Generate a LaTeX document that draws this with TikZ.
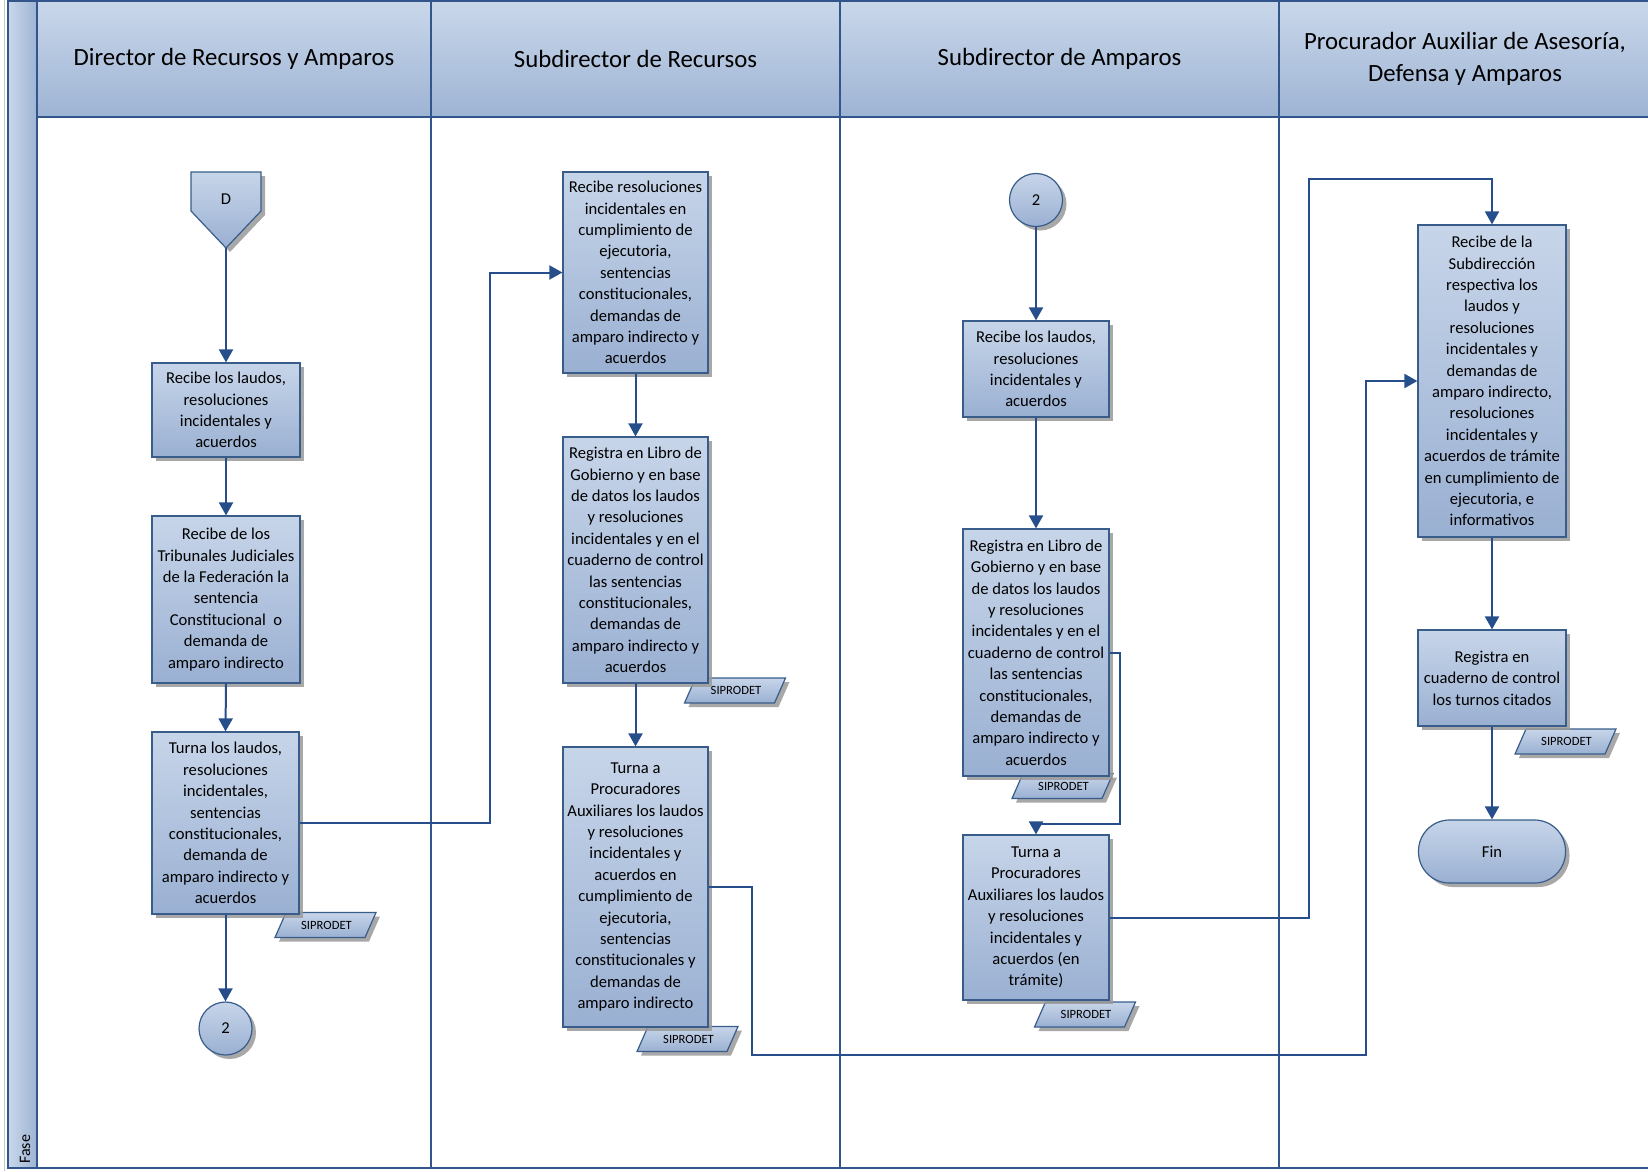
\documentclass[tikz,border=0pt]{standalone}
\usepackage{fontspec}
\setmainfont{Carlito}
\usetikzlibrary{arrows.meta,shadows}

\definecolor{laneline}{RGB}{50,86,140}
\definecolor{hdrtop}{RGB}{201,215,234}
\definecolor{hdrbot}{RGB}{158,180,212}
\definecolor{boxtop}{RGB}{199,213,233}
\definecolor{boxbot}{RGB}{154,176,210}
\definecolor{boxedge}{RGB}{56,93,138}
\definecolor{flowcol}{RGB}{38,78,138}

\newcommand\procfont{\fontsize{16.6}{21.4}\selectfont}
\newcommand\hdrfont{\fontsize{24.8}{32}\selectfont}
\newcommand\siprofont{\fontsize{12.6}{14}\selectfont}

% data-store parallelogram labelled SIPRODET, centred on (#2,#3)
\newcommand\sipro[3]{%
  \begin{scope}[shift={(#2,#3)}]
    \path[shapefill] (-39.5,-12.5) -- (50.5,-12.5) -- (39.5,12.5) -- (-50.5,12.5) -- cycle;
    \node[font=\siprofont,inner sep=0pt] (#1) at (1,0) {SIPRODET};
  \end{scope}}

\begin{document}
\begin{tikzpicture}[x=1pt,y=-1pt,
  lane/.style={draw=laneline,line width=1.8pt},
  shapefill/.style={draw=boxedge,line width=1.2pt,top color=boxtop,bottom color=boxbot,
    drop shadow={shadow xshift=4pt,shadow yshift=-4pt,fill=black!40,opacity=0.85}},
  proc/.style={shapefill,rectangle,align=center,inner sep=1pt,font=\procfont},
  hdr/.style={align=center,font=\hdrfont,inner sep=0pt},
  flow/.style={draw=flowcol,line width=2pt,-{Triangle[length=13pt,width=14pt]}},
]
\useasboundingbox (0,0) rectangle (1648,1171);
\clip (0,0) rectangle (1648,1171);

% page edge
\draw[black!22,line width=1pt] (4,0) -- (4,1171);

% pool: header band and phase strip
\path[top color=hdrtop,bottom color=hdrbot] (37,1) rectangle (1652,117);
\path[left color=hdrtop,right color=hdrbot] (8,1) rectangle (37,1168);
\draw[lane] (8,1) rectangle (1652,1168);
\draw[lane] (37,1) -- (37,1168);
\draw[lane] (37,117) -- (1652,117);
\draw[lane] (431,1) -- (431,1168);
\draw[lane] (840,1) -- (840,1168);
\draw[lane] (1279,1) -- (1279,1168);

\node[hdr] (h1) at (234,59) {Director de Recursos y Amparos};
\node[hdr] (h2) at (635.5,59) {Subdirector de Recursos};
\node[hdr] (h3) at (1059.5,59) {Subdirector de Amparos};
\node[hdr] (h4) at (1465,58.5) {Procurador Auxiliar de Asesoría,\\Defensa y Amparos};
\node[font=\fontsize{16}{18}\selectfont,rotate=90,anchor=west,inner sep=0pt] (fase) at (25,1164) {Fase};

% data-store labels (drawn first so the boxes overlap them)
\sipro{s3}{325.5}{925}
\sipro{s5}{735}{690.5}
\sipro{s6}{687.5}{1039}
\sipro{s8}{1062.5}{786}
\sipro{s9}{1085}{1014.5}
\sipro{s11}{1565.5}{741.5}

% lane 1: Director de Recursos y Amparos
\path[shapefill] (191,172) -- (261,172) -- (261,211) -- (226,248) -- (191,211) -- cycle;
\node[font=\procfont,inner sep=0pt] (D) at (226,199) {D};
\coordinate (Dtip) at (226,248);
\node[proc,minimum width=148pt,minimum height=94pt] (b1) at (226,410)
  {Recibe los laudos,\\resoluciones\\incidentales y\\acuerdos};
\node[proc,minimum width=148pt,minimum height=167pt] (b2) at (226,599.5)
  {Recibe de los\\Tribunales Judiciales\\de la Federación la\\sentencia\\Constitucional\ \ o\\demanda de\\amparo indirecto};
\node[proc,minimum width=147pt,minimum height=182pt] (b3) at (225.5,823)
  {Turna los laudos,\\resoluciones\\incidentales,\\sentencias\\constitucionales,\\demanda de\\amparo indirecto y\\acuerdos};
\node[shapefill,circle,minimum size=53pt,inner sep=0pt,font=\procfont] (c1) at (225.5,1028.5) {2};

% lane 2: Subdirector de Recursos
\node[proc,minimum width=145pt,minimum height=201pt] (b4) at (635.5,272.5)
  {Recibe resoluciones\\incidentales en\\cumplimiento de\\ejecutoria,\\sentencias\\constitucionales,\\demandas de\\amparo indirecto y\\acuerdos};
\node[proc,minimum width=145pt,minimum height=246pt] (b5) at (635.5,560)
  {Registra en Libro de\\Gobierno y en base\\de datos los laudos\\y resoluciones\\incidentales y en el\\cuaderno de control\\las sentencias\\constitucionales,\\demandas de\\amparo indirecto y\\acuerdos};
\node[proc,minimum width=145pt,minimum height=280pt] (b6) at (635.5,887)
  {Turna a\\Procuradores\\Auxiliares los laudos\\y resoluciones\\incidentales y\\acuerdos en\\cumplimiento de\\ejecutoria,\\sentencias\\constitucionales y\\demandas de\\amparo indirecto};

% lane 3: Subdirector de Amparos
\node[shapefill,circle,minimum size=53pt,inner sep=0pt,font=\procfont] (c2) at (1036,200) {2};
\node[proc,minimum width=146pt,minimum height=96pt] (b7) at (1036,369)
  {Recibe los laudos,\\resoluciones\\incidentales y\\acuerdos};
\node[proc,minimum width=146pt,minimum height=247pt] (b8) at (1036,652.5)
  {Registra en Libro de\\Gobierno y en base\\de datos los laudos\\y resoluciones\\incidentales y en el\\cuaderno de control\\las sentencias\\constitucionales,\\demandas de\\amparo indirecto y\\acuerdos};
\node[proc,minimum width=146pt,minimum height=165pt] (b9) at (1036,917.5)
  {Turna a\\Procuradores\\Auxiliares los laudos\\y resoluciones\\incidentales y\\acuerdos (en\\trámite)};

% lane 4: Procurador Auxiliar
\node[proc,minimum width=148pt,minimum height=312pt] (b10) at (1492,381)
  {Recibe de la\\Subdirección\\respectiva los\\laudos y\\resoluciones\\incidentales y\\demandas de\\amparo indirecto,\\resoluciones\\incidentales y\\acuerdos de trámite\\en cumplimiento de\\ejecutoria, e\\informativos};
\node[proc,minimum width=148pt,minimum height=96pt] (b11) at (1492,678)
  {Registra en\\cuaderno de control\\los turnos citados};
\node[shapefill,rectangle,rounded corners=31pt,minimum width=147pt,minimum height=63pt,font=\procfont] (fin) at (1492,851.5) {Fin};

% vertical flow
\draw[flow] (Dtip) -- (b1.north);
\draw[flow] (b1.south) -- (b2.north);
\draw[flow] (b2.south) -- (b3.north);
\draw[flow] (b3.south) -- (c1.north);
\draw[flow] (b4.south) -- (b5.north);
\draw[flow] (b5.south) -- (b6.north);
\draw[flow] (c2.south) -- (b7.north);
\draw[flow] (b7.south) -- (b8.north);
\draw[flow] (b10.south) -- (b11.north);
\draw[flow] (b11.south) -- (fin.north);

% cross-lane flow
\draw[flow] (b3.east) -- ++(190,0) |- (b4.west);
\draw[flow] (b6.east) -| (752,1055) -| (1366,381) |- (b10.west);
\draw[flow] (b8.east) -| (1120,824) -| (b9.north);
\draw[flow] (b9.east) -| (1309,179) -| (b10.north);
\end{tikzpicture}
\end{document}
